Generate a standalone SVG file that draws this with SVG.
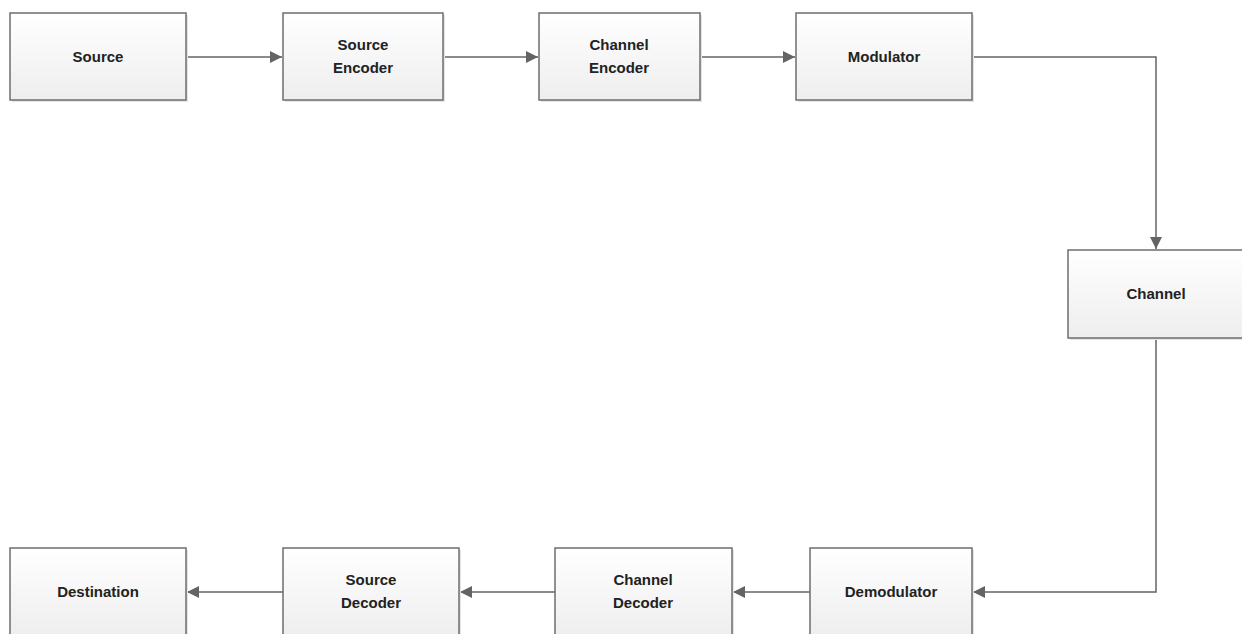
<svg xmlns="http://www.w3.org/2000/svg" width="1242" height="634" viewBox="0 0 1242 634">
<defs>
<linearGradient id="g" x1="0" y1="0" x2="0" y2="1">
<stop offset="0" stop-color="#ffffff"/>
<stop offset="1" stop-color="#eeeeee"/>
</linearGradient>
<marker id="ah" markerWidth="12" markerHeight="12" refX="12" refY="6" orient="auto" markerUnits="userSpaceOnUse">
<path d="M0,0 L12,6 L0,12 Z" fill="#646464"/>
</marker>
<style>
.box{fill:url(#g);stroke:#6e6e6e;stroke-width:1.5}
.sh{fill:#e4e4e4}
.t{font-family:"Liberation Sans",Arial,sans-serif;font-weight:bold;font-size:15px;fill:#222;text-anchor:middle}
.c{fill:none;stroke:#646464;stroke-width:1.5;marker-end:url(#ah)}
</style>
</defs>
<rect width="1242" height="634" fill="#ffffff"/>
<g id="connectors">
<path class="c" d="M186,57 H282"/>
<path class="c" d="M443,57 H538"/>
<path class="c" d="M700,57 H795"/>
<path class="c" d="M972,57 H1156 V249"/>
<path class="c" d="M1156,338 V592 H973"/>
<path class="c" d="M810,592 H733"/>
<path class="c" d="M555,592 H460"/>
<path class="c" d="M283,592 H187"/>
</g>
<g id="source"><rect class="sh" x="12" y="15" width="176" height="87"/><rect class="box" x="10" y="13" width="176" height="87"/><text class="t" x="98" y="62">Source</text></g>
<g id="source-encoder"><rect class="sh" x="285" y="15" width="160" height="87"/><rect class="box" x="283" y="13" width="160" height="87"/><text class="t" x="363" y="50">Source</text><text class="t" x="363" y="73">Encoder</text></g>
<g id="channel-encoder"><rect class="sh" x="541" y="15" width="161" height="87"/><rect class="box" x="539" y="13" width="161" height="87"/><text class="t" x="619" y="50">Channel</text><text class="t" x="619" y="73">Encoder</text></g>
<g id="modulator"><rect class="sh" x="798" y="15" width="176" height="87"/><rect class="box" x="796" y="13" width="176" height="87"/><text class="t" x="884" y="62">Modulator</text></g>
<g id="channel"><rect class="sh" x="1070" y="252" width="176" height="88"/><rect class="box" x="1068" y="250" width="176" height="88"/><text class="t" x="1156" y="299">Channel</text></g>
<g id="demodulator"><rect class="sh" x="812" y="550" width="162" height="88"/><rect class="box" x="810" y="548" width="162" height="88"/><text class="t" x="891" y="597">Demodulator</text></g>
<g id="channel-decoder"><rect class="sh" x="557" y="550" width="177" height="88"/><rect class="box" x="555" y="548" width="177" height="88"/><text class="t" x="643" y="585">Channel</text><text class="t" x="643" y="608">Decoder</text></g>
<g id="source-decoder"><rect class="sh" x="285" y="550" width="176" height="88"/><rect class="box" x="283" y="548" width="176" height="88"/><text class="t" x="371" y="585">Source</text><text class="t" x="371" y="608">Decoder</text></g>
<g id="destination"><rect class="sh" x="12" y="550" width="176" height="88"/><rect class="box" x="10" y="548" width="176" height="88"/><text class="t" x="98" y="597">Destination</text></g>
</svg>
